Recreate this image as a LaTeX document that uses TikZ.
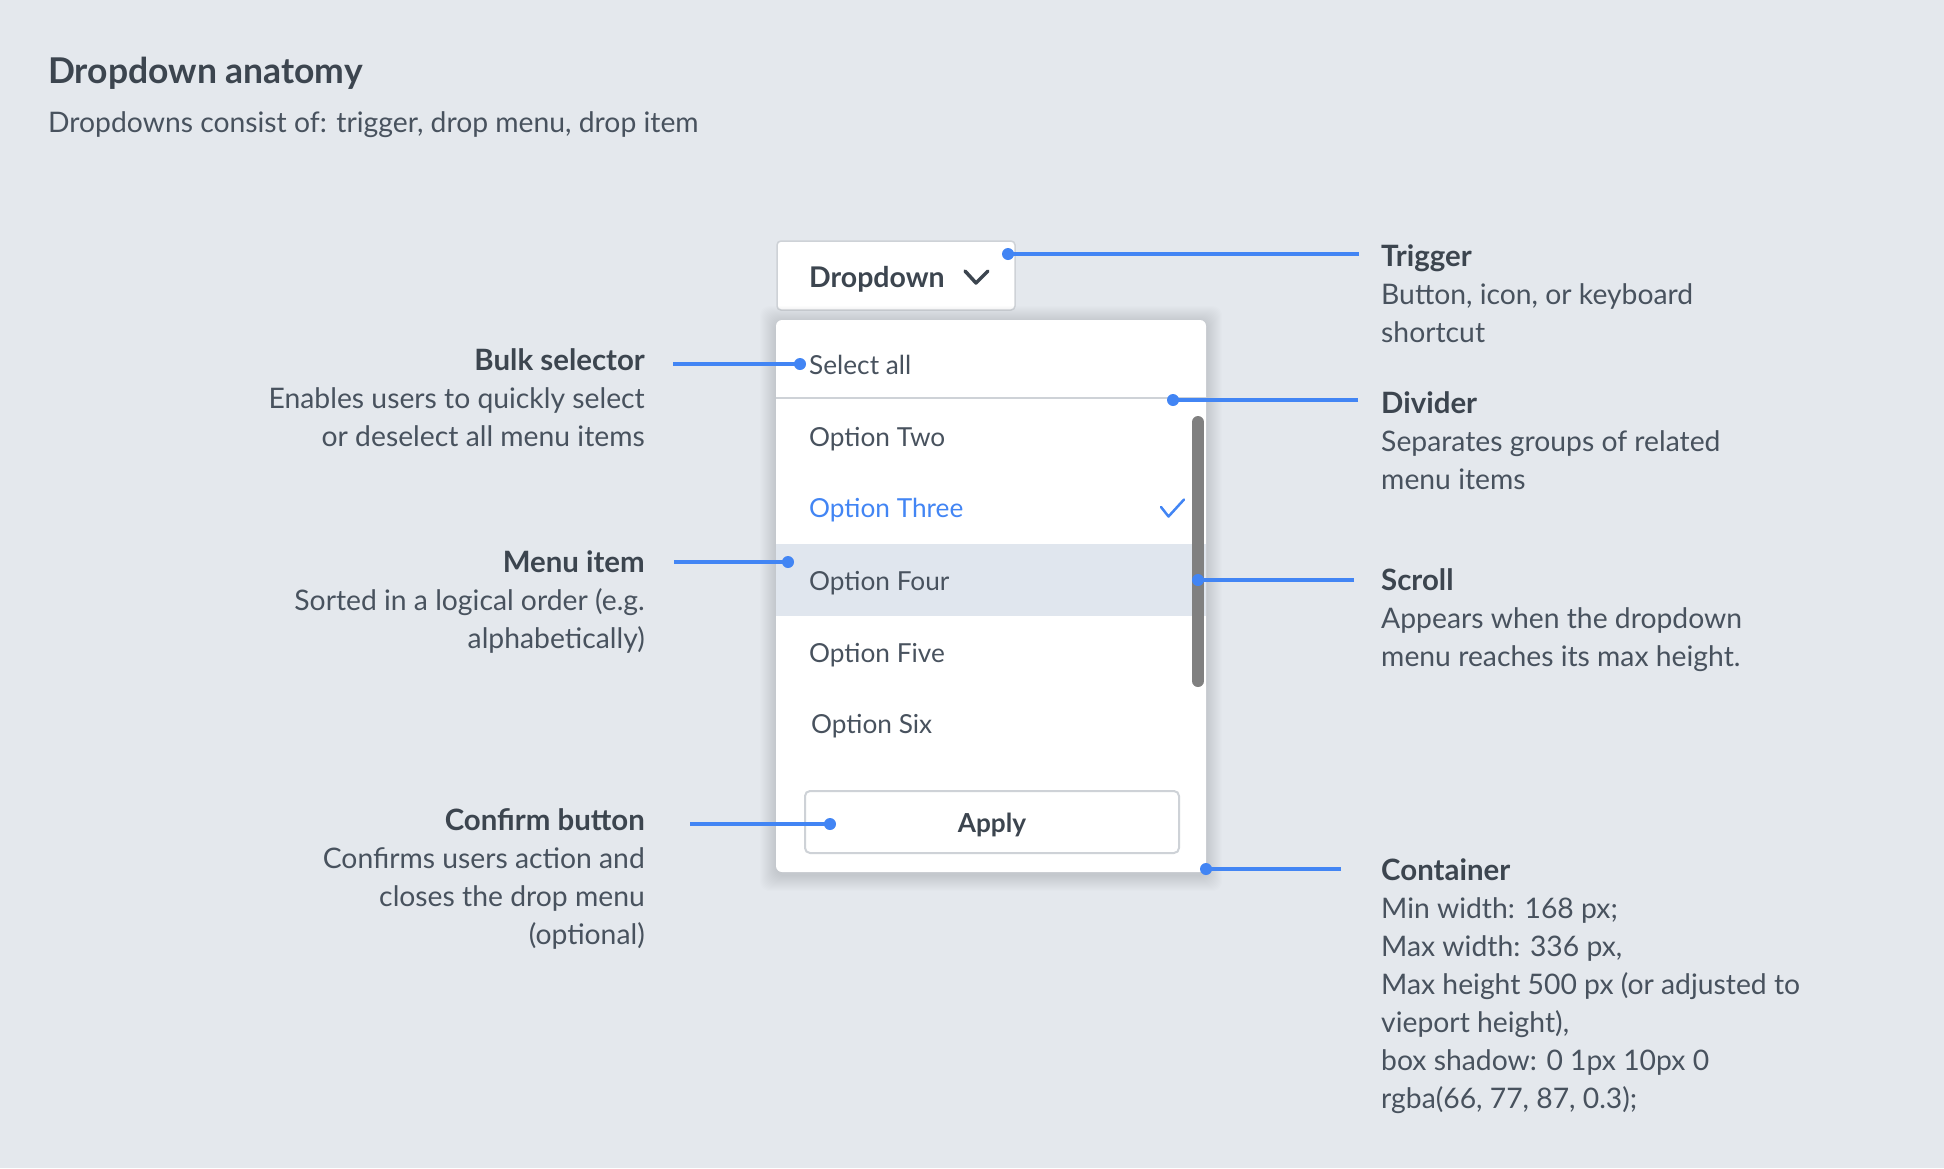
\documentclass[tikz,border=0pt]{standalone}
\usepackage{fontspec}
\setmainfont{Lato}
\usetikzlibrary{positioning}
\definecolor{anatbg}{RGB}{228,232,237}
\definecolor{anatblue}{RGB}{66,133,244}
\definecolor{anatdark}{RGB}{60,69,79}
\definecolor{anattext}{RGB}{72,82,94}
\definecolor{anatrow}{RGB}{224,230,238}
\definecolor{anatline}{RGB}{206,210,215}
\definecolor{anatscroll}{RGB}{128,128,128}
\newcommand\partfont{\fontsize{28.3}{38}\selectfont}
\newcommand\itemfont{\fontsize{26.2}{38}\selectfont}
\newcommand\parthead[1]{{\fontsize{29.4}{38}\selectfont\bfseries\color{anatdark}#1}}

\begin{document}
\begin{tikzpicture}[
    x=1pt, y=-1pt,
    partlabel/.style={inner sep=0pt, align=left, anchor=north west, font=\partfont, text=anattext},
    leftlabel/.style={partlabel, align=right, anchor=north east},
    menuitem/.style={inner sep=0pt, anchor=base west, font=\itemfont, text=anattext},
    pointer/.style={anatblue, line width=3.3pt},
    anchordot/.style={anatblue}
]
    \useasboundingbox (0,0) rectangle (1944,1168);
    \fill[anatbg] (0,0) rectangle (1944,1168);

    % Heading
    \node[inner sep=0pt, anchor=base west, font=\fontsize{35.5}{40}\selectfont\bfseries, text=anatdark] (title) at (48,83) {Dropdown anatomy};
    \node[inner sep=0pt, anchor=base west, font=\partfont, text=anattext] (subtitle) at (48,132) {Dropdowns consist of: trigger, drop menu, drop item};

    % Trigger
    \node[fill=white, draw=anatline, line width=1.5pt, rounded corners=4pt, minimum width=238pt, minimum height=69pt, inner sep=0pt] (trigger) at (896,275.5) {};
    \node[menuitem, font=\fontsize{28.5}{38}\selectfont\bfseries, text=anatdark] (trigtext) at (809,287) {Dropdown};
    \draw[anatdark, line width=3.5pt, line cap=round, line join=round] (965,271) -- (976,283) -- (988,271);

    % Container with shadow
    \foreach \s in {1,...,16}
        \fill[anatdark, opacity=0.011, rounded corners=10pt] (776-\s,322-\s) rectangle (1206+\s,875+\s);
    \node[fill=white, rounded corners=6pt, minimum width=430pt, minimum height=552pt, inner sep=0pt] (menu) at (991,596) {};

    % Menu items
    \fill[anatrow] (776,544) rectangle (1206,616);
    \draw[anatline, line width=2pt] (776,398) -- (1206,398);
    \node[menuitem] (selall) at (809,374) {Select all};
    \node[menuitem] (opttwo) at (809,446) {Option Two};
    \node[menuitem, text=anatblue] (optthree) at (809,517) {Option Three};
    \draw[anatblue, line width=2.5pt, line cap=round, line join=round] (1161,507) -- (1168.5,516.5) -- (1184,499.5);
    \node[menuitem] (optfour) at (809,590) {Option Four};
    \node[menuitem] (optfive) at (809,662) {Option Five};
    \node[menuitem] (optsix) at (811,733) {Option Six};
    \draw[anatscroll, line width=12pt, line cap=round] (1198,422) -- (1198,681);

    % Confirm button
    \node[fill=white, draw=anatline, line width=2pt, rounded corners=5pt, minimum width=374pt, minimum height=62pt, inner sep=0pt] (apply) at (992,822) {};
    \node[inner sep=0pt, anchor=base, font=\itemfont\bfseries, text=anatdark] (applytext) at (992,832) {Apply};

    % Left labels
    \node[leftlabel] (bulk) at (645,343.5) {\strut\parthead{Bulk selector}\\Enables users to quickly select\\or deselect all menu items};
    \node[leftlabel] (itemlbl) at (645,546) {\strut\parthead{Menu item}\\Sorted in a logical order (e.g.\\alphabetically)};
    \node[leftlabel] (confirm) at (645,803.5) {\strut\parthead{Confirm button}\\Confirms users action and\\closes the drop menu\\(optional)};

    % Right labels
    \node[partlabel] (triglbl) at (1381,239.5) {\strut\parthead{Trigger}\\Button, icon, or keyboard\\shortcut};
    \node[partlabel] (divlbl) at (1381,386.5) {\strut\parthead{Divider}\\Separates groups of related\\menu items};
    \node[partlabel] (scrolllbl) at (1381,564) {\strut\parthead{Scroll}\\Appears when the dropdown\\menu reaches its max height.};
    \node[partlabel] (contlbl) at (1381,853.5) {\strut\parthead{Container}\\Min width: 168 px;\\Max width: 336 px,\\Max height 500 px (or adjusted to\\vieport height),\\box shadow: 0 1px 10px 0\\rgba(66, 77, 87, 0.3);};

    % Pointer ends
    \coordinate (bulkdot) at (800,364);
    \coordinate (bulkend) at (673,364);
    \coordinate (itemdot) at (788,562);
    \coordinate (itemend) at (674,562);
    \coordinate (confdot) at (830,824);
    \coordinate (confend) at (690,824);
    \coordinate (trigdot) at (1008,254);
    \coordinate (trigend) at (1359,254);
    \coordinate (divdot) at (1173,400);
    \coordinate (divend) at (1358,400);
    \coordinate (scrolldot) at (1198,580);
    \coordinate (scrollend) at (1354,580);
    \coordinate (contdot) at (1206,869);
    \coordinate (contend) at (1341,869);

    % Pointers
    \foreach \p in {bulk,item,conf,trig,div,scroll,cont} {
        \draw[pointer] (\p end) -- (\p dot);
        \fill[anchordot] (\p dot) circle (6);
    }
\end{tikzpicture}
\end{document}
